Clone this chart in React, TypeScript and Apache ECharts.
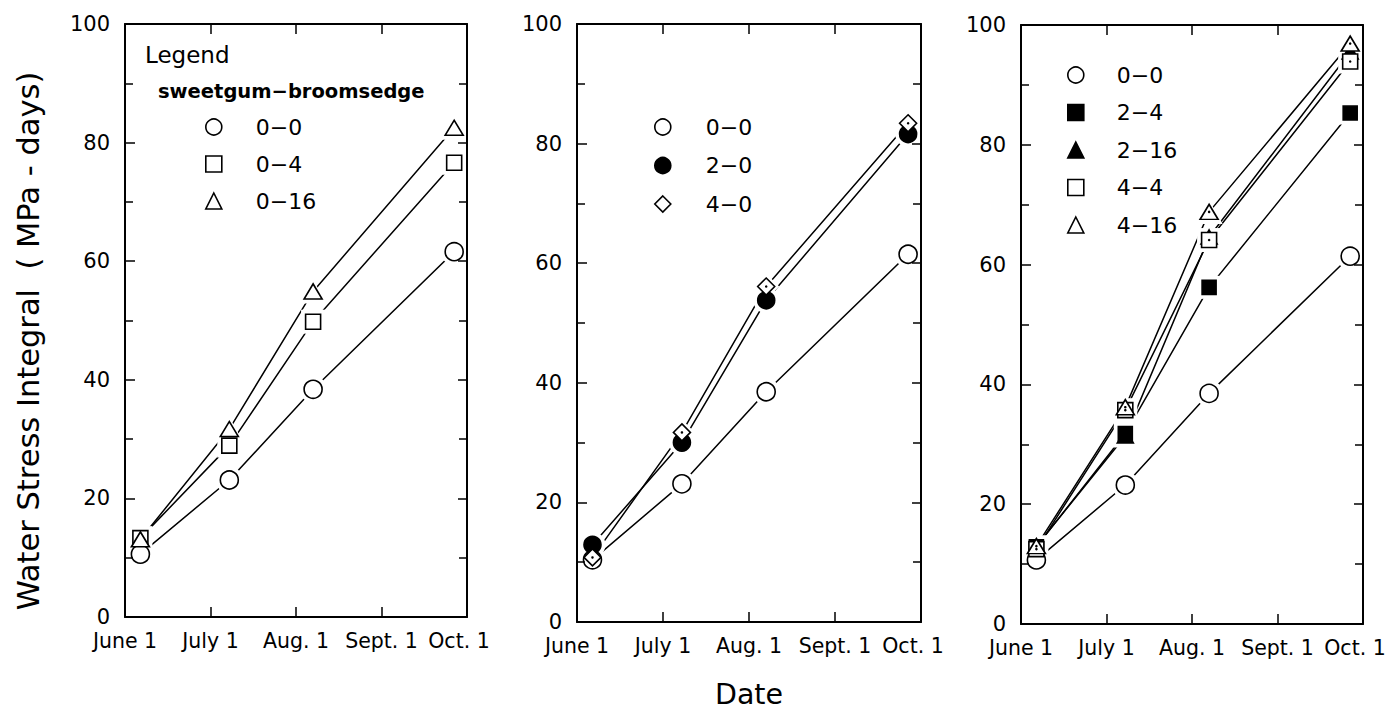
import { useEffect, useRef } from "react";
import * as echarts from "echarts";

const FONT = "'DejaVu Sans', sans-serif";

// x axis: months after June 1 (tick labels) and sampling dates (as month fractions)
const monthLabels = ["June 1", "July 1", "Aug. 1", "Sept. 1", "Oct. 1"];
const sampleMonths = [0.18, 1.22, 2.2, 3.85];

// Panel 1 — sweetgum−broomsedge
const p1Names = ["0−0", "0−4", "0−16"];
const p1_0_0 = [10.6, 23.1, 38.4, 61.6];
const p1_0_4 = [13.3, 28.9, 49.8, 76.6];
const p1_0_16 = [13.1, 31.7, 54.9, 82.5];

// Panel 2
const p2Names = ["0−0", "2−0", "4−0"];
const p2_0_0 = [10.4, 23.1, 38.5, 61.5];
const p2_2_0 = [12.9, 30.0, 53.8, 81.6];
const p2_4_0 = [10.8, 31.7, 56.1, 83.4];

// Panel 3
const p3Names = ["0−0", "2−4", "2−16", "4−4", "4−16"];
const p3_0_0 = [10.7, 23.2, 38.5, 61.4];
const p3_2_4 = [12.9, 31.8, 56.2, 85.3];
const p3_2_16 = [13.0, 31.4, 64.6, 95.5];
const p3_4_4 = [12.5, 35.7, 64.1, 93.9];
const p3_4_16 = [13.0, 36.2, 68.8, 96.9];

const yTitle = "Water Stress Integral  ( MPa - days)";
const xTitle = "Date";
const legendTitle = "Legend";
const legendSubtitle = "sweetgum−broomsedge";

type St = { symbol: string; size: number | number[]; filled: boolean; dot?: boolean };
const STYLE: Record<string, St> = {
  "0−0": { symbol: "circle", size: 18, filled: false },
  "0−4": { symbol: "rect", size: 15, filled: false },
  "0−16": { symbol: "triangle", size: [18, 15], filled: false },
  "2−0": { symbol: "circle", size: 17, filled: true },
  "4−0": { symbol: "diamond", size: 17, filled: false, dot: true },
  "2−4": { symbol: "rect", size: 14, filled: true },
  "2−16": { symbol: "triangle", size: [16, 14], filled: true },
  "4−4": { symbol: "rect", size: 15, filled: false, dot: true },
  "4−16": { symbol: "triangle", size: [18, 15], filled: false, dot: true },
};

const panels = [
  { names: p1Names, values: [p1_0_0, p1_0_4, p1_0_16] },
  { names: p2Names, values: [p2_0_0, p2_2_0, p2_4_0] },
  { names: p3Names, values: [p3_0_0, p3_2_4, p3_2_16, p3_4_4, p3_4_16] },
];

const grids = [
  { left: 125, top: 24, width: 342, height: 593 },
  { left: 577, top: 24, width: 344, height: 598 },
  { left: 1021, top: 25, width: 342, height: 599 },
];

const legendPos = [
  { left: 205, top: 116, itemGap: 15, pad: 29 },
  { left: 654, top: 116, itemGap: 16.5, pad: 30 },
  { left: 1067, top: 64, itemGap: 15.5, pad: 28 },
];

const axisLineStyle = { color: "#000", width: 2 };
const tickLineStyle = { color: "#000", width: 1.5 };

function buildOption() {
  const xAxis: any[] = [];
  const yAxis: any[] = [];
  grids.forEach((_, p) => {
    xAxis.push({
      gridIndex: p,
      type: "value",
      min: 0,
      max: 4,
      interval: 1,
      position: "bottom",
      axisLine: { onZero: false, lineStyle: axisLineStyle },
      axisTick: { inside: true, length: 10, lineStyle: tickLineStyle },
      axisLabel: {
        formatter: (v: number) => {
          const i = Math.round(v);
          const t = monthLabels[i] ?? "";
          return i === monthLabels.length - 1 ? `{last|${t}}` : t;
        },
        color: "#000",
        fontSize: 20.5,
        fontFamily: FONT,
        margin: 13,
        rich: {
          last: { fontSize: 20.5, fontFamily: FONT, color: "#000", padding: [0, 16, 0, 0] },
        },
      },
      splitLine: { show: false },
      z: 5,
      ...(p === 1
        ? {
            name: xTitle,
            nameLocation: "middle",
            nameGap: 60,
            nameTextStyle: { fontSize: 28.5, lineHeight: 24, fontFamily: FONT, color: "#000" },
          }
        : {}),
    });
    xAxis.push({
      gridIndex: p,
      type: "value",
      min: 0,
      max: 4,
      interval: 1,
      position: "top",
      axisLine: { onZero: false, lineStyle: axisLineStyle },
      axisTick: { inside: true, length: 10, lineStyle: tickLineStyle },
      axisLabel: { show: false },
      splitLine: { show: false },
      z: 5,
    });
    yAxis.push({
      gridIndex: p,
      type: "value",
      min: 0,
      max: 100,
      interval: 20,
      position: "left",
      axisLine: { onZero: false, lineStyle: axisLineStyle },
      axisTick: { inside: true, length: 10, lineStyle: tickLineStyle },
      minorTick: { show: true, splitNumber: 2, length: 8, lineStyle: tickLineStyle },
      axisLabel: { color: "#000", fontSize: 21, fontFamily: FONT, margin: 15 },
      splitLine: { show: false },
      minorSplitLine: { show: false },
      z: 5,
    });
    yAxis.push({
      gridIndex: p,
      type: "value",
      min: 0,
      max: 100,
      interval: 20,
      position: "right",
      axisLine: { onZero: false, lineStyle: axisLineStyle },
      axisTick: { inside: true, length: 9, lineStyle: tickLineStyle },
      minorTick: { show: true, splitNumber: 2, length: 8, lineStyle: tickLineStyle },
      axisLabel: { show: false },
      splitLine: { show: false },
      minorSplitLine: { show: false },
      z: 5,
    });
  });

  const series: any[] = [];
  panels.forEach((panel, p) => {
    panel.names.forEach((name, k) => {
      const st = STYLE[name];
      const data = sampleMonths.map((m, i) => [m, panel.values[k][i]]);
      const common = { xAxisIndex: 2 * p, yAxisIndex: 2 * p, data, animation: false };
      series.push({
        ...common,
        type: "line",
        showSymbol: false,
        symbol: "none",
        lineStyle: { color: "#000", width: 1.5 },
        emphasis: { disabled: true },
        silent: true,
        z: 2,
      });
      const halo = Array.isArray(st.size) ? st.size.map((s) => s + 9) : st.size + 9;
      series.push({
        ...common,
        type: "scatter",
        symbol: st.symbol,
        symbolSize: halo,
        itemStyle: { color: "#fff", opacity: 1 },
        emphasis: { disabled: true },
        silent: true,
        z: 3,
      });
      series.push({
        ...common,
        type: "scatter",
        name,
        symbol: st.symbol,
        symbolSize: st.size,
        itemStyle: {
          color: st.filled ? "#000" : "#fff",
          borderColor: "#000",
          borderWidth: 1.6,
          opacity: 1,
        },
        emphasis: { disabled: true },
        z: 4,
      });
      if (st.dot) {
        series.push({
          ...common,
          type: "scatter",
          symbol: "circle",
          symbolSize: 2.5,
          itemStyle: { color: "#000", opacity: 1 },
          emphasis: { disabled: true },
          silent: true,
          z: 5,
        });
      }
    });
  });

  const legend = panels.map((panel, p) => ({
    orient: "vertical",
    left: legendPos[p].left,
    top: legendPos[p].top,
    padding: 0,
    itemGap: legendPos[p].itemGap,
    itemWidth: 16,
    itemHeight: 16,
    selectedMode: false,
    textStyle: {
      fontSize: 22,
      fontFamily: FONT,
      color: "#000",
      padding: [0, 0, 0, legendPos[p].pad],
    },
    data: panel.names.map((name) => {
      const st = STYLE[name];
      return {
        name,
        icon: st.symbol,
        itemStyle: {
          color: st.filled ? "#000" : "#fff",
          borderColor: "#000",
          borderWidth: 1.6,
          opacity: 1,
        },
      };
    }),
  }));

  return {
    animation: false,
    backgroundColor: "#fff",
    textStyle: { fontFamily: FONT },
    title: [
      {
        text: legendTitle,
        left: 145,
        top: 43,
        padding: 0,
        textStyle: { fontSize: 23, fontWeight: "normal", fontFamily: FONT, color: "#000" },
      },
      {
        text: legendSubtitle,
        left: 158,
        top: 81,
        padding: 0,
        textStyle: { fontSize: 19.5, fontWeight: "bold", fontFamily: FONT, color: "#000" },
      },
    ],
    legend,
    grid: grids.map((g) => ({ ...g, containLabel: false, outerBoundsMode: "none" })),
    xAxis,
    yAxis,
    series,
    graphic: [
      {
        type: "text",
        x: 28,
        y: 341,
        rotation: Math.PI / 2,
        style: {
          text: yTitle,
          fontSize: 30.5,
          fontFamily: FONT,
          fill: "#000",
          align: "center",
          verticalAlign: "middle",
          textAlign: "center",
          textVerticalAlign: "middle",
        },
      },
    ],
  };
}

export default function App() {
  const ref = useRef<HTMLDivElement>(null);
  useEffect(() => {
    if (!ref.current) return;
    const chart = echarts.init(ref.current, null, { renderer: "svg", width: 1388, height: 709 });
    chart.setOption(buildOption() as any);
    return () => chart.dispose();
  }, []);
  return (
    <div
      ref={ref}
      style={{ position: "absolute", left: 0, top: 0, width: 1388, height: 709, background: "#fff" }}
    />
  );
}
